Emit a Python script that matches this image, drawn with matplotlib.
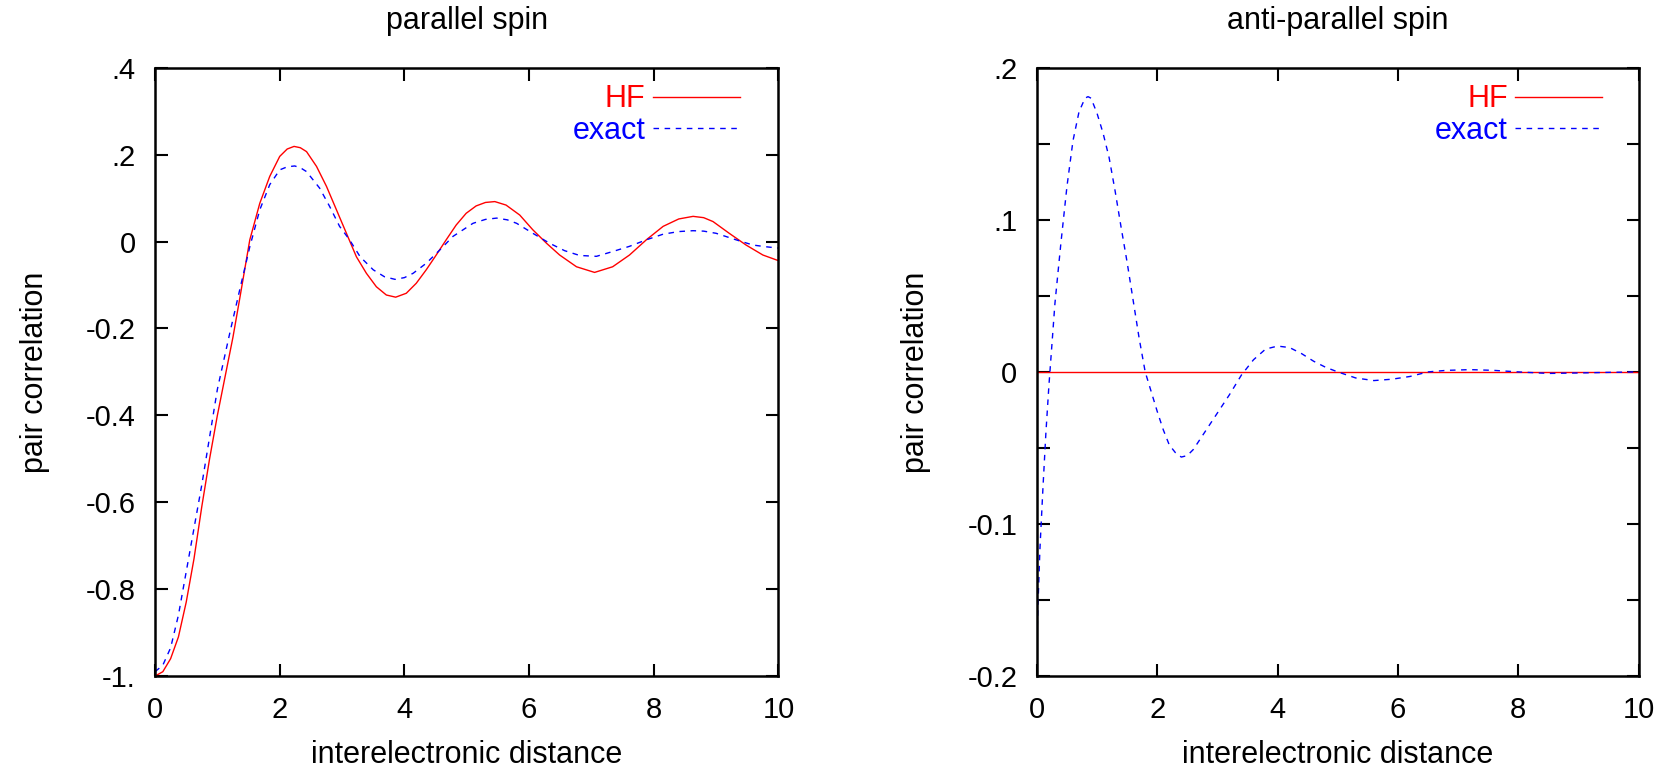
import matplotlib
matplotlib.use("Agg")
import matplotlib.pyplot as plt
import numpy as np

plt.rcParams['font.family'] = ['Liberation Sans', 'DejaVu Sans']

# parallel spin
r_hf_par = [0.0, 0.125, 0.25, 0.375, 0.5, 0.625, 0.75, 0.875, 1.0, 1.25, 1.36, 1.52,
            1.68, 1.84, 2.0, 2.12, 2.23, 2.33, 2.43, 2.59, 2.75, 2.91, 3.07, 3.23,
            3.39, 3.55, 3.71, 3.86, 4.03, 4.19, 4.35, 4.51, 4.67, 4.83, 4.99, 5.15,
            5.3, 5.45, 5.63, 5.85, 6.06, 6.28, 6.49, 6.76, 7.05, 7.34, 7.61, 7.88,
            8.15, 8.4, 8.63, 8.8, 8.95, 9.21, 9.48, 9.75, 10.0]
hf_par = [-1.0, -0.99, -0.96, -0.91, -0.83, -0.73, -0.61, -0.50, -0.40, -0.22,
          -0.13, 0.004, 0.088, 0.150, 0.196, 0.213, 0.219, 0.216, 0.207, 0.173,
          0.127, 0.073, 0.019, -0.035, -0.073, -0.104, -0.123, -0.128, -0.119,
          -0.096, -0.065, -0.031, 0.004, 0.038, 0.065, 0.082, 0.09, 0.092, 0.084,
          0.061, 0.027, -0.004, -0.031, -0.058, -0.071, -0.058, -0.031, 0.004,
          0.035, 0.052, 0.058, 0.055, 0.046, 0.019, -0.008, -0.031, -0.044]
r_ex_par = [0.0, 0.125, 0.25, 0.375, 0.5, 0.625, 0.75, 0.875, 1.0, 1.2, 1.36, 1.52,
            1.68, 1.84, 2.0, 2.12, 2.24, 2.33, 2.43, 2.64, 2.8, 2.96, 3.12, 3.29,
            3.5, 3.68, 3.85, 4.0, 4.14, 4.35, 4.57, 4.78, 5.1, 5.3, 5.48, 5.65, 5.8,
            6.06, 6.33, 6.57, 6.81, 7.08, 7.34, 7.61, 7.88, 8.15, 8.4, 8.63, 8.8,
            9.0, 9.32, 9.59, 9.8, 10.0]
ex_par = [-0.99, -0.975, -0.935, -0.86, -0.76, -0.66, -0.56, -0.45, -0.34, -0.21,
          -0.11, -0.012, 0.073, 0.131, 0.165, 0.172, 0.174, 0.17, 0.161, 0.123,
          0.081, 0.035, 0.004, -0.035, -0.065, -0.081, -0.087, -0.083, -0.073,
          -0.050, -0.019, 0.012, 0.042, 0.051, 0.054, 0.05, 0.042, 0.019, -0.004,
          -0.021, -0.032, -0.034, -0.023, -0.011, 0.004, 0.017, 0.023, 0.025,
          0.024, 0.019, 0.004, -0.008, -0.012, -0.015]

# anti-parallel spin
r_anti = [0.0, 0.05, 0.1, 0.15, 0.2, 0.3, 0.4, 0.5, 0.6, 0.7, 0.8, 0.85, 0.9, 1.0,
          1.1, 1.2, 1.3, 1.4, 1.5, 1.6, 1.7, 1.8, 1.9, 2.0, 2.1, 2.2, 2.3, 2.4, 2.5,
          2.6, 2.8, 3.0, 3.2, 3.4, 3.6, 3.8, 4.0, 4.2, 4.4, 4.6, 4.8, 5.0, 5.3, 5.6,
          5.9, 6.2, 6.5, 6.8, 7.2, 7.6, 8.0, 8.5, 9.0, 9.5, 10.0]
ex_anti = [-0.175, -0.117, -0.077, -0.04, -0.009, 0.045, 0.085, 0.122, 0.152, 0.171,
           0.180, 0.181, 0.180, 0.170, 0.157, 0.141, 0.119, 0.095, 0.072, 0.047, 0.022,
           0.0, -0.013, -0.026, -0.038, -0.048, -0.053, -0.056, -0.055, -0.051,
           -0.039, -0.027, -0.015, -0.002, 0.008, 0.015, 0.017, 0.016, 0.012, 0.007,
           0.003, 0.0, -0.004, -0.0057, -0.0048, -0.003, 0.0, 0.001, 0.0015, 0.001,
           0.0, -0.001, -0.0007, -0.0003, 0.0]
hf_anti = [0.0] * len(r_anti)

xticks = [0, 2, 4, 6, 8, 10]
yticks_par = [-1.0, -0.8, -0.6, -0.4, -0.2, 0.0, 0.2, 0.4]
ylabels_par = ['-1.', '-0.8', '-0.6', '-0.4', '-0.2', '0', '.2', '.4']
yticks_anti = [-0.2, -0.15, -0.1, -0.05, 0.0, 0.05, 0.1, 0.15, 0.2]
ylabels_anti = ['-0.2', '', '-0.1', '', '0', '', '.1', '', '.2']

fs = 22
fig = plt.figure(figsize=(16.67, 7.7), dpi=100)
ax1 = fig.add_axes([0.093, 0.122, 0.374, 0.79])
ax2 = fig.add_axes([0.622, 0.122, 0.361, 0.79])


def style(ax, title, yt, yl, ylim, ylab_x, leg_x):
    ax.set_xlim(0, 10)
    ax.set_ylim(*ylim)
    ax.set_xticks(xticks)
    ax.set_xticklabels([str(t) for t in xticks])
    ax.set_yticks(yt)
    ax.set_yticklabels(yl)
    ax.tick_params(direction='in', length=9, width=1.5, top=True, right=True,
                   labelsize=21, pad=14)
    for s in ax.spines.values():
        s.set_linewidth(1.8)
    ax.set_title(title, fontsize=fs, y=1.063, va='center')
    ax.set_xlabel('interelectronic distance', fontsize=fs)
    ax.xaxis.set_label_coords(0.5, -0.13)
    ax.xaxis.label.set_va('center')
    ax.set_ylabel('pair correlation', fontsize=fs)
    ax.yaxis.set_label_coords(ylab_x, 0.5)
    ax.yaxis.label.set_va('center')
    ax.legend(loc='upper right', bbox_to_anchor=(leg_x, 0.993), frameon=False,
              markerfirst=False, labelcolor='linecolor', handlelength=2.85,
              fontsize=fs, borderaxespad=0, labelspacing=0.05, handletextpad=0.25)


ax1.plot(r_hf_par, hf_par, color='#ff0000', lw=1.0, label='HF')
ax1.plot(r_ex_par, ex_par, color='#0000ff', lw=1.0, ls=(0, (4, 4)), label='exact')
style(ax1, 'parallel spin', yticks_par, ylabels_par, (-1.0, 0.4), -0.192, 0.958)

ax2.plot(r_anti, hf_anti, color='#ff0000', lw=1.0, label='HF')
ax2.plot(r_anti, ex_anti, color='#0000ff', lw=1.0, ls=(0, (4, 4)), label='exact')
style(ax2, 'anti-parallel spin', yticks_anti, ylabels_anti, (-0.2, 0.2), -0.201, 0.96)

fig.savefig('out.png', dpi=100)
